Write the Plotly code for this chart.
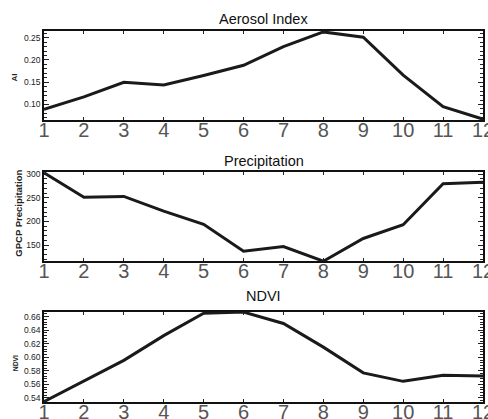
import plotly.graph_objects as go

months = [1, 2, 3, 4, 5, 6, 7, 8, 9, 10, 11, 12]
ai = [0.089, 0.117, 0.150, 0.144, 0.165, 0.188, 0.230, 0.263, 0.251, 0.166, 0.095, 0.067]
precip = [303, 251, 253, 222, 194, 137, 147, 116, 164, 193, 280, 283]
ndvi = [0.5346, 0.5656, 0.5955, 0.632, 0.665, 0.6668, 0.650, 0.615, 0.577, 0.5645, 0.5735, 0.5725]

titles = ["Aerosol Index", "Precipitation", "NDVI"]
ytitles = ["AI", "GPCP Precipitation", "NDVI"]
series = [ai, precip, ndvi]
yranges = [[0.065, 0.265], [116, 305], [0.534, 0.667]]
ydticks = [0.05, 50, 0.02]
yminor = [0.01, 10, 0.004]
yfmt = [".2f", "d", ".2f"]

W, H = 488, 419
ML, MR, MT, MB = 44, 5, 31, 17.3
PW, PH = W - ML - MR, H - MT - MB
panels = [(31, 120), (171.7, 261), (311.7, 401.7)]
title_y = [19.5, 161, 295.5]
ytitle_pos = [(15, 77.5, 8), (18.5, 213, 9.5), (15, 363, 6.8)]


def py(ypx):
    return (H - MB - ypx) / PH


def px(xpx):
    return (xpx - ML) / PW


fig = go.Figure()
for i in range(3):
    ax = "" if i == 0 else str(i + 1)
    fig.add_trace(go.Scatter(x=months, y=series[i], mode="lines",
                             line=dict(color="#1a1a1a", width=3),
                             xaxis="x" + ax, yaxis="y" + ax, showlegend=False,
                             cliponaxis=False, hoverinfo="skip"))
    top, bot = panels[i]
    fig.layout["xaxis" + ax] = dict(
        domain=[0, 1], range=[1, 12], anchor="y" + ax, automargin=False,
        tickmode="array", tickvals=months, ticktext=[str(m) for m in months],
        ticks="inside", ticklen=3, tickcolor="#222", mirror="allticks",
        ticklabeloverflow="allow", ticklabelstandoff=-9,
        showline=True, linecolor="#111", linewidth=1.5, showgrid=False, zeroline=False,
        tickfont=dict(family="Liberation Sans, Arial", size=20, color="#555"),
    )
    fig.layout["yaxis" + ax] = dict(
        domain=[py(bot), py(top)], range=yranges[i], anchor="x" + ax, automargin=False,
        dtick=ydticks[i], tick0=0, tickformat=yfmt[i],
        ticks="inside", ticklen=5, tickcolor="#222", mirror="allticks",
        minor=dict(dtick=yminor[i], tick0=0, ticks="inside", ticklen=3, tickcolor="#222"),
        showline=True, linecolor="#111", linewidth=1.5, showgrid=False, zeroline=False,
        tickfont=dict(family="Liberation Sans, Arial", size=8.5, color="#222"),
    )
    fig.add_annotation(text=titles[i], x=0.5, y=py(title_y[i]),
                       xref="paper", yref="paper", showarrow=False,
                       xanchor="center", yanchor="middle",
                       font=dict(family="Liberation Sans, Arial", size=14.5, color="#111"))
    tx, ty, ts = ytitle_pos[i]
    fig.add_annotation(text="<b>" + ytitles[i] + "</b>", x=px(tx), y=py(ty),
                       xref="paper", yref="paper", showarrow=False, textangle=-90,
                       xanchor="center", yanchor="middle",
                       font=dict(family="Liberation Sans, Arial", size=ts, color="#222"))

fig.update_layout(width=W, height=H, margin=dict(l=ML, r=MR, t=MT, b=MB, autoexpand=False),
                  paper_bgcolor="white", plot_bgcolor="white")
fig.write_html("out.html", config={"displayModeBar": False},
               post_script="document.body.style.margin='0';document.body.style.overflow='hidden';")
